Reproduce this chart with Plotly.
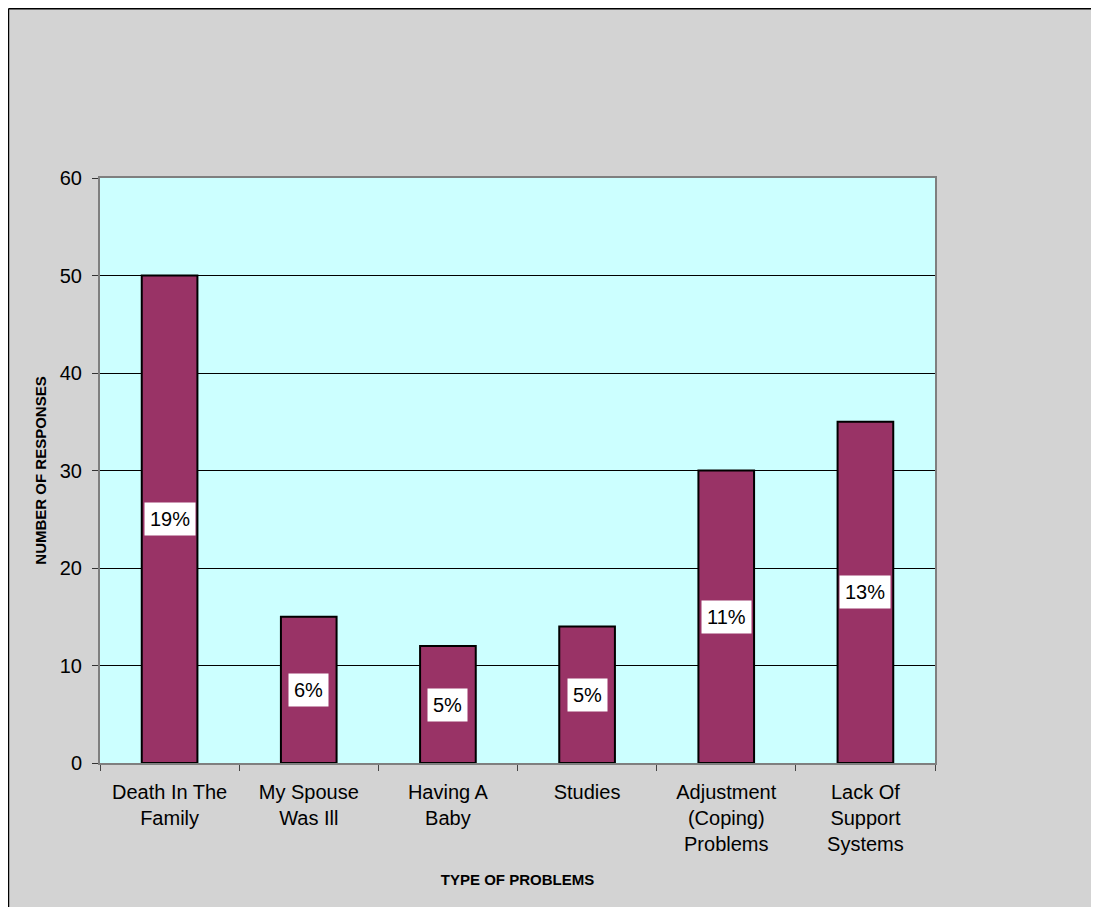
import plotly.graph_objects as go

categories = ["Death In The<br>Family", "My Spouse<br>Was Ill", "Having A<br>Baby", "Studies",
              "Adjustment<br>(Coping)<br>Problems", "Lack Of<br>Support<br>Systems"]
responses = [50, 15, 12, 14, 30, 35]
percent_labels = ["19%", "6%", "5%", "5%", "11%", "13%"]
y_ticks = [0, 10, 20, 30, 40, 50, 60]

FONT = "Liberation Sans, Arial, sans-serif"

fig = go.Figure()
fig.add_trace(go.Bar(
    x=categories, y=responses,
    marker=dict(color="#993366", line=dict(color="black", width=2)),
    width=0.4, hoverinfo="x+y",
))

for c, v, t in zip(categories, responses, percent_labels):
    fig.add_annotation(x=c, y=v / 2, text=t, showarrow=False,
                       bgcolor="white", borderpad=5,
                       font=dict(family=FONT, size=20, color="black"))

# outer border lines (left and top)
fig.add_shape(type="line", xref="paper", yref="paper", x0=-0.1096, x1=-0.1096, y0=1.2895, y1=-0.3,
              line=dict(color="black", width=1.5))
fig.add_shape(type="line", xref="paper", yref="paper", x0=-0.1096, x1=1.3, y0=1.2895, y1=1.2895,
              line=dict(color="black", width=1.5))

fig.update_layout(
    width=1091, height=899,
    margin=dict(l=92, r=164, t=170, b=144),
    paper_bgcolor="#D3D3D3",
    plot_bgcolor="#CCFFFF",
    showlegend=False,
    bargap=0.6,
    font=dict(family=FONT, size=20, color="black"),
    xaxis=dict(
        tickson="boundaries", ticks="outside", ticklen=6, tickcolor="#444444",
        ticklabelstandoff=10,
        showline=True, linecolor="#7F7F7F", linewidth=2, mirror=True,
        showgrid=False,
        tickfont=dict(family=FONT, size=20),
        title=dict(text="<b>TYPE OF PROBLEMS</b>", font=dict(family=FONT, size=15), standoff=20),
    ),
    yaxis=dict(
        range=[0, 60], tickvals=y_ticks, ticks="outside", ticklen=6, tickcolor="#333333",
        ticklabelstandoff=6,
        showline=True, linecolor="#7F7F7F", linewidth=2, mirror=True,
        showgrid=True, gridcolor="black", gridwidth=1, zeroline=False,
        tickfont=dict(family=FONT, size=20),
        title=dict(text="<b>NUMBER OF RESPONSES</b>", font=dict(family=FONT, size=15), standoff=10),
    ),
)

fig.write_html("out.html")
